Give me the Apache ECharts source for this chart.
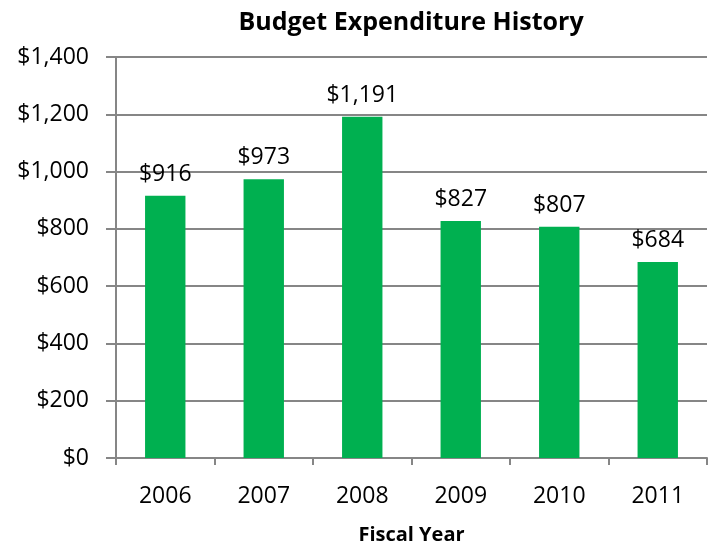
<!DOCTYPE html>
<html>
<head>
<meta charset="utf-8">
<script src="https://cdn.jsdelivr.net/npm/echarts@6/dist/echarts.min.js"></script>
<style>
  html, body { margin: 0; padding: 0; background: #fff; }
  #chart { width: 710px; height: 546px; }
</style>
</head>
<body>
<div id="chart"></div>
<script>
// Annual budget expenditures (in dollars, thousands) per fiscal year
const fiscalYears = ['2006', '2007', '2008', '2009', '2010', '2011'];
const expenditures = [916, 973, 1191, 827, 807, 684];
const yTicks = [0, 200, 400, 600, 800, 1000, 1200, 1400];

const fontFamily = '"Open Sans", Lato, sans-serif';
const gridGray = '#868686';

function money(v) {
  return '$' + v.toLocaleString('en-US');
}

const chart = echarts.init(document.getElementById('chart'), null, { renderer: 'canvas' });

chart.setOption({
  animation: false,
  backgroundColor: '#ffffff',
  title: {
    text: 'Budget Expenditure History',
    left: 406,
    top: 5,
    textAlign: 'center',
    textStyle: { fontFamily, fontSize: 25, fontWeight: 'bold', color: '#000' }
  },
  grid: { left: 116, right: 3, top: 57, bottom: 88, containLabel: false, outerBoundsMode: 'none' },
  xAxis: {
    type: 'category',
    data: fiscalYears,
    name: 'Fiscal Year',
    nameLocation: 'middle',
    nameGap: 67,
    nameTextStyle: { fontFamily, fontSize: 20, fontWeight: 'bold', color: '#000' },
    axisLine: { lineStyle: { color: gridGray, width: 2 } },
    axisTick: { show: true, alignWithLabel: false, length: 7, lineStyle: { color: gridGray, width: 2 } },
    axisLabel: { fontFamily, fontSize: 23, color: '#000', margin: 27 }
  },
  yAxis: {
    type: 'value',
    min: yTicks[0],
    max: yTicks[yTicks.length - 1],
    interval: yTicks[1] - yTicks[0],
    axisLine: { show: true, lineStyle: { color: gridGray, width: 2 } },
    axisTick: { show: true, length: 10, lineStyle: { color: gridGray, width: 2 } },
    splitLine: { show: true, lineStyle: { color: gridGray, width: 2 } },
    axisLabel: { fontFamily, fontSize: 23, color: '#000', margin: 27, formatter: money }
  },
  series: [{
    type: 'bar',
    data: expenditures,
    barWidth: '41%',
    itemStyle: { color: '#00B050' },
    label: {
      show: true,
      position: 'top',
      distance: 10,
      fontFamily,
      fontSize: 23,
      color: '#000',
      formatter: p => money(p.value)
    }
  }]
});
</script>
</body>
</html>
